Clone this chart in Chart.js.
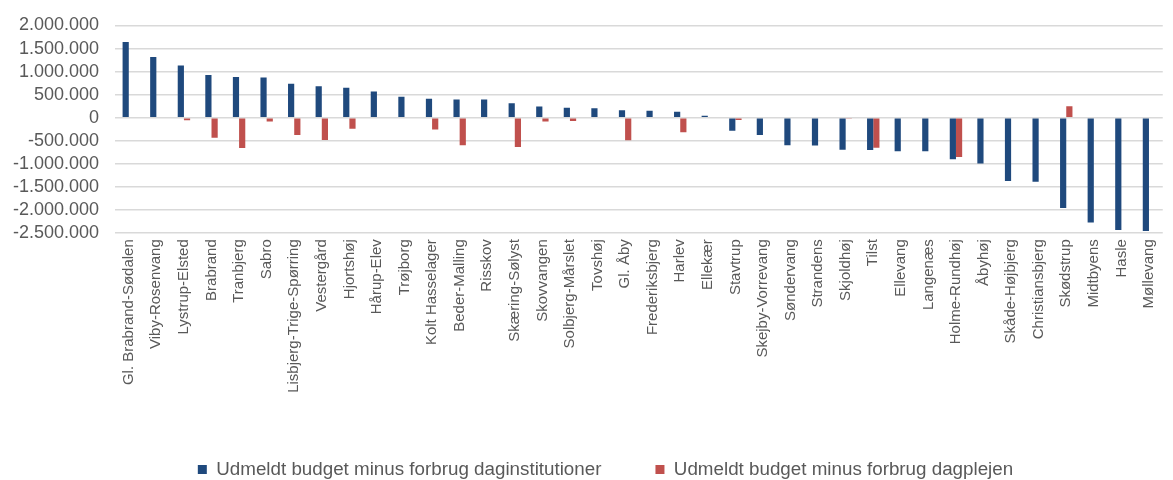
<!DOCTYPE html>
<html>
<head>
<meta charset="utf-8">
<script src="https://cdn.jsdelivr.net/npm/chart.js@4/dist/chart.umd.min.js"></script>
<style>
html,body{margin:0;padding:0;background:#fff;}
#wrap{width:1173px;height:480px;position:relative;}
</style>
</head>
<body>
<div id="wrap"><canvas id="c" width="1173" height="480"></canvas></div>
<script>
const categories = ["Gl. Brabrand-Sødalen","Viby-Rosenvang","Lystrup-Elsted","Brabrand","Tranbjerg","Sabro","Lisbjerg-Trige-Spørring","Vestergård","Hjortshøj","Hårup-Elev","Trøjborg","Kolt Hasselager","Beder-Malling","Risskov","Skæring-Sølyst","Skovvangen","Solbjerg-Mårslet","Tovshøj","Gl. Åby","Frederiksbjerg","Harlev","Ellekær","Stavtrup","Skejby-Vorrevang","Søndervang","Strandens","Skjoldhøj","Tilst","Ellevang","Langenæs","Holme-Rundhøj","Åbyhøj","Skåde-Højbjerg","Christiansbjerg","Skødstrup","Midtbyens","Hasle","Møllevang"];
const daginstitutioner = [1640000,1315000,1135000,925000,885000,870000,735000,685000,648000,568000,453000,410000,395000,395000,316000,244000,216000,208000,165000,151000,129000,43000,-280000,-373000,-597000,-603000,-690000,-697000,-726000,-726000,-898000,-991000,-1372000,-1386000,-1954000,-2270000,-2430000,-2450000];
const dagplejen = [0,0,-55000,-431000,-653000,-80000,-373000,-481000,-237000,0,0,-252000,-595000,0,-631000,-80000,-70000,0,-489000,0,-316000,0,-50000,0,0,0,-12000,-647000,0,0,-847000,0,0,0,252000,0,0,0];
const seriesNames = ["Udmeldt budget minus forbrug daginstitutioner","Udmeldt budget minus forbrug dagplejen"];
const yMin = -2500000, yMax = 2000000, yStep = 500000;

function fmt(v){
  const s = Math.abs(v).toString().replace(/\B(?=(\d{3})+(?!\d))/g, ".");
  return (v < 0 ? "-" : "") + s;
}

const shiftLegend = {
  id: 'shiftLegend',
  afterLayout(chart){ if (chart.legend) { chart.legend.left += 20; chart.legend.right += 20; } }
};

new Chart(document.getElementById('c'), {
  type: 'bar',
  data: {
    labels: categories,
    datasets: [
      {label: seriesNames[0], data: daginstitutioner, backgroundColor: '#1F497D', borderWidth: 0},
      {label: seriesNames[1], data: dagplejen, backgroundColor: '#C0504D', borderWidth: 0}
    ]
  },
  plugins: [shiftLegend],
  options: {
    responsive: false,
    animation: false,
    devicePixelRatio: 1,
    layout: {padding: {left: 0, right: 2, top: 9, bottom: -9}},
    datasets: {bar: {categoryPercentage: 0.45, barPercentage: 1.0}},
    plugins: {
      tooltip: {enabled: false},
      legend: {
        position: 'bottom',
        labels: {
          boxWidth: 9, boxHeight: 9, padding: 54,
          color: '#595959',
          font: {family: 'Liberation Sans, Arial, sans-serif', size: 18.8}
        }
      }
    },
    scales: {
      x: {
        grid: {display: false, drawTicks: false},
        border: {display: false},
        ticks: {
          autoSkip: false, maxRotation: 90, minRotation: 90, padding: 6,
          color: '#595959',
          font: {family: 'Liberation Sans, Arial, sans-serif', size: 15}
        },
        afterFit: function(s){ s.height = 173; }
      },
      y: {
        min: yMin, max: yMax,
        grid: {color: '#d9d9d9', lineWidth: 1.5, drawTicks: false},
        border: {display: false},
        ticks: {
          autoSkip: false, stepSize: yStep, padding: 16,
          color: '#595959',
          font: {family: 'Liberation Sans, Arial, sans-serif', size: 18, lineHeight: 1.05},
          callback: function(v){ return fmt(v); }
        },
        afterFit: function(s){ s.width = 115; }
      }
    }
  }
});
</script>
</body>
</html>
